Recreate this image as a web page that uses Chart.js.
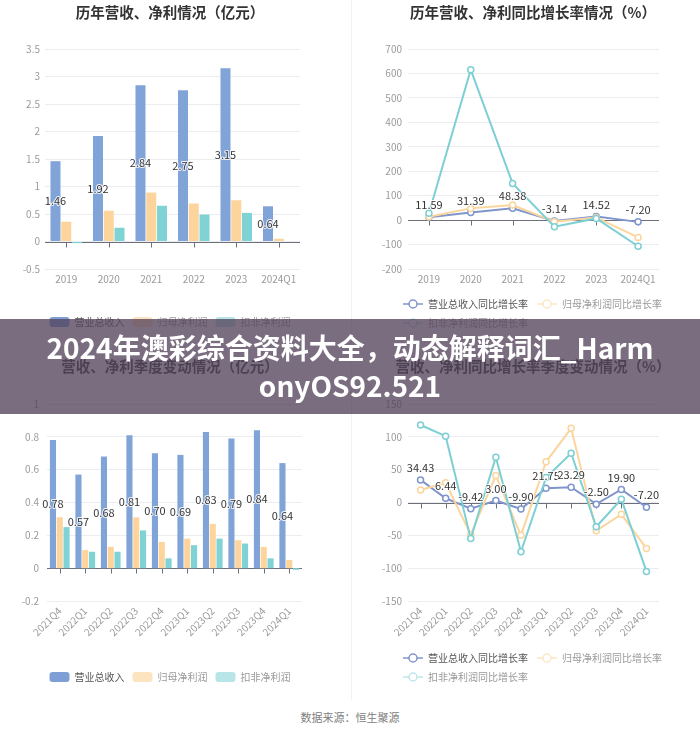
<!DOCTYPE html>
<html lang="zh-CN">
<head>
<meta charset="utf-8">
<title>历年营收、净利情况</title>
<script src="https://cdn.jsdelivr.net/npm/chart.js@4.4.1/dist/chart.umd.min.js"></script>
<style>
  html, body { margin: 0; padding: 0; background: #fff; }
  body { width: 700px; height: 734px; position: relative; overflow: hidden;
         font-family: "Noto Sans CJK SC", "Noto Sans", sans-serif; }
  canvas { position: absolute; }
  #yearAmount { left: 0; top: 0; }
  #yearGrowth { left: 352px; top: 0; }
  #quarterAmount { left: 0; top: 340px; }
  #quarterGrowth { left: 352px; top: 340px; }
  .divider { position: absolute; left: 351px; top: 0; width: 1px; height: 700px; background: #f2f2f2; }
  .banner { position: absolute; left: 0; top: 319px; width: 700px; height: 95px; z-index: 5;
            background: rgba(85, 68, 92, 0.78); color: #fff; text-align: center;
            font-family: "Noto Sans CJK SC", sans-serif; font-weight: 700; font-size: 28px;
            line-height: 38px; padding-top: 9px; box-sizing: border-box; white-space: nowrap; }
  .banner span { display: block; }
  .source { position: absolute; left: 0; top: 709px; width: 700px; text-align: center;
            font-size: 11px; color: #808080; }
</style>
</head>
<body>
<canvas id="yearAmount" width="340" height="340"></canvas>
<canvas id="yearGrowth" width="348" height="340"></canvas>
<canvas id="quarterAmount" width="340" height="360"></canvas>
<canvas id="quarterGrowth" width="348" height="360"></canvas>
<div class="divider"></div>
<div class="banner"><span>2024年澳彩综合资料大全，动态解释词汇_Harm</span><span>onyOS92.521</span></div>
<div class="source">数据来源：恒生聚源</div>

<script>
// ---- data ----
const yearLabels = ['2019', '2020', '2021', '2022', '2023', '2024Q1'];
const yearRevenue = [1.46, 1.92, 2.84, 2.75, 3.15, 0.64];
const yearNetProfit = [0.36, 0.56, 0.89, 0.69, 0.75, 0.05];
const yearDeducted = [-0.03, 0.25, 0.65, 0.49, 0.52, -0.01];

const yearRevenueGrowth = [11.59, 31.39, 48.38, -3.14, 14.52, -7.20];
const yearNetGrowth = [14, 48, 62, -7, 11, -71];
const yearDeductedGrowth = [28, 615, 150, -27, 7, -107];

const quarterLabels = ['2021Q4', '2022Q1', '2022Q2', '2022Q3', '2022Q4',
                       '2023Q1', '2023Q2', '2023Q3', '2023Q4', '2024Q1'];
const quarterRevenue = [0.78, 0.57, 0.68, 0.81, 0.70, 0.69, 0.83, 0.79, 0.84, 0.64];
const quarterNetProfit = [0.31, 0.11, 0.13, 0.31, 0.16, 0.18, 0.27, 0.17, 0.13, 0.05];
const quarterDeducted = [0.25, 0.10, 0.10, 0.23, 0.06, 0.14, 0.18, 0.15, 0.06, -0.01];

const quarterRevenueGrowth = [34.43, 6.44, -9.42, 3.00, -9.90, 21.75, 23.29, -2.50, 19.90, -7.20];
const quarterNetGrowth = [19, 30, -49, 41, -50, 62, 113, -43, -18, -70];
const quarterDeductedGrowth = [118, 101, -55, 69, -75, 38, 75, -37, 5, -105];

const barNames = ['营业总收入', '归母净利润', '扣非净利润'];
const lineNames = ['营业总收入同比增长率', '归母净利润同比增长率', '扣非净利润同比增长率'];

// y axis ranges: [min, max, step]
const yearAmountRange = [-0.5, 3.5, 0.5];
const yearGrowthRange = [-200, 700, 100];
const quarterAmountRange = [-0.2, 1, 0.2];
const quarterGrowthRange = [-150, 150, 50];

// ---- colours ----
const barColors = ['#80a3d8', '#fdd59c', '#7fd3d4'];
const lineColors = ['#7f96cc', '#fbd59c', '#7dcfd4'];
const legendBarColors = ['#7d9fd6', '#fde4c0', '#b8e5e8'];
const legendLineColors = ['#7f96cc', '#fde6c6', '#bfe6ea'];
const legendTextColors = ['#555', '#9a9a9a', '#9a9a9a'];

const fontFamily = '"Noto Sans CJK SC", "Noto Sans", sans-serif';
Chart.defaults.font.family = fontFamily;
Chart.defaults.animation = false;

// Small legend icon: a line with a hollow circle
function lineIcon(color) {
  const c = document.createElement('canvas');
  c.width = 20;
  c.height = 12;
  const g = c.getContext('2d');
  g.strokeStyle = color;
  g.lineWidth = 1.5;
  g.beginPath();
  g.moveTo(0, 6);
  g.lineTo(20, 6);
  g.stroke();
  g.beginPath();
  g.arc(10, 6, 4, 0, Math.PI * 2);
  g.fillStyle = '#fff';
  g.fill();
  g.stroke();
  return c;
}
const lineIcons = legendLineColors.map(lineIcon);

// Value labels for the first series
const valueLabels = {
  id: 'valueLabels',
  afterDatasetsDraw(chart, args, opts) {
    const { ctx } = chart;
    const meta = chart.getDatasetMeta(0);
    const data = chart.data.datasets[0].data;
    ctx.save();
    ctx.font = '11px ' + fontFamily;
    ctx.textAlign = 'center';
    ctx.textBaseline = 'middle';
    ctx.lineJoin = 'round';
    meta.data.forEach((el, i) => {
      const text = data[i].toFixed(2);
      const y = opts.mode === 'inside' ? (el.y + el.base) / 2 : el.y - 12;
      ctx.strokeStyle = 'rgba(255,255,255,0.85)';
      ctx.lineWidth = 2;
      ctx.strokeText(text, el.x, y);
      ctx.fillStyle = '#333';
      ctx.fillText(text, el.x, y);
    });
    ctx.restore();
  }
};

// Axis line at zero with small ticks at each category
const zeroAxis = {
  id: 'zeroAxis',
  beforeDatasetsDraw(chart) {
    const { ctx, chartArea, scales } = chart;
    const y0 = Math.round(scales.y.getPixelForValue(0)) + 0.5;
    ctx.save();
    ctx.strokeStyle = '#6e7079';
    ctx.lineWidth = 1;
    ctx.beginPath();
    ctx.moveTo(chartArea.left, y0);
    ctx.lineTo(chartArea.right, y0);
    scales.x.ticks.forEach((t, i) => {
      const px = Math.round(scales.x.getPixelForTick(i)) + 0.5;
      ctx.moveTo(px, y0);
      ctx.lineTo(px, y0 + 5);
    });
    ctx.stroke();
    ctx.restore();
  }
};

function fmtTick(v) {
  return String(Number(v.toFixed(2)));
}

// widest y tick label, so mirrored labels can sit right-aligned left of the plot
function widestTick(range) {
  const g = document.createElement('canvas').getContext('2d');
  g.font = '10px ' + fontFamily;
  let w = 0;
  for (let v = range[0]; v <= range[1] + 1e-9; v += range[2]) {
    w = Math.max(w, g.measureText(fmtTick(v)).width);
  }
  return w;
}

// Build options shared by all four panels; geo holds the layout numbers
function baseOptions(title, range, geo, rotated) {
  const yTicks = { stepSize: range[2], color: '#9a9a9a', font: { size: 10 }, padding: geo.yPad, callback: fmtTick };
  if (geo.mirror) {
    yTicks.mirror = true;
    yTicks.crossAlign = 'far';
    yTicks.padding = -(geo.yPad + widestTick(range));
  }
  return {
    responsive: false,
    layout: { padding: geo.padding },
    scales: {
      x: {
        offset: true,
        grid: { display: false, drawTicks: false },
        border: { display: false },
        ticks: {
          color: '#9a9a9a', font: { size: 10 }, padding: geo.xPad, autoSkip: false,
          minRotation: rotated ? 45 : 0, maxRotation: rotated ? 45 : 0
        },
        afterFit(s) { s.height = geo.xHeight; }
      },
      y: {
        min: range[0], max: range[1],
        grid: { color: '#ebedf0', drawTicks: false, tickLength: 0 },
        border: { display: false },
        ticks: yTicks,
        afterFit(s) { s.width = geo.yWidth; }
      },
      pad: {
        position: 'right',
        grid: { display: false, drawTicks: false },
        border: { display: false },
        ticks: { display: false },
        afterFit(s) { s.width = geo.rightPad; }
      }
    },
    plugins: {
      title: {
        display: true, text: title, color: '#333',
        font: { size: 14.5, weight: 'bold' },
        padding: geo.titlePad
      },
      legend: {
        position: 'bottom',
        align: geo.legendAlign
      },
      tooltip: { enabled: false }
    }
  };
}

function barChart(id, title, labels, series, range, geo, rotated) {
  const options = baseOptions(title, range, geo, rotated);
  options.plugins.valueLabels = { mode: 'inside' };
  options.plugins.legend.labels = {
    boxWidth: 20, boxHeight: 10, padding: geo.legendGap,
    font: { size: 10 }, useBorderRadius: true, borderRadius: 3,
    generateLabels(chart) {
      return Chart.defaults.plugins.legend.labels.generateLabels(chart).map((item, i) => {
        item.fillStyle = legendBarColors[i];
        item.lineWidth = 0;
        item.fontColor = legendTextColors[i];
        return item;
      });
    }
  };
  return new Chart(document.getElementById(id), {
    type: 'bar',
    data: {
      labels: labels,
      datasets: series.map((data, i) => ({
        label: barNames[i],
        data: data,
        yAxisID: 'y',
        backgroundColor: barColors[i],
        categoryPercentage: geo.catPct,
        barPercentage: geo.barPct
      }))
    },
    options: options,
    plugins: [zeroAxis, valueLabels]
  });
}

function lineChart(id, title, labels, series, range, geo, rotated) {
  const options = baseOptions(title, range, geo, rotated);
  options.plugins.valueLabels = { mode: 'above' };
  options.plugins.legend.labels = {
    usePointStyle: true, pointStyleWidth: 20, padding: geo.legendGap,
    font: { size: 10 },
    sort: (a, b) => a.datasetIndex - b.datasetIndex,
    generateLabels(chart) {
      return Chart.defaults.plugins.legend.labels.generateLabels(chart).map(item => {
        const i = item.datasetIndex;
        item.pointStyle = lineIcons[i];
        item.fontColor = legendTextColors[i];
        return item;
      });
    }
  };
  return new Chart(document.getElementById(id), {
    type: 'line',
    data: {
      labels: labels,
      datasets: series.map((data, i) => ({
        label: lineNames[i],
        data: data,
        yAxisID: 'y',
        order: 2 - i,
        borderColor: lineColors[i],
        borderWidth: 2,
        tension: 0,
        pointRadius: 3,
        pointBorderWidth: 1.5,
        pointBackgroundColor: '#fff',
        pointBorderColor: lineColors[i]
      }))
    },
    options: options,
    plugins: [zeroAxis, valueLabels]
  });
}

barChart('yearAmount', '历年营收、净利情况（亿元）', yearLabels,
  [yearRevenue, yearNetProfit, yearDeducted], yearAmountRange, {
    padding: { left: 0, right: 0, top: 0, bottom: 3 },
    titlePad: { top: 3.3, bottom: 28.3 },
    yWidth: 45, yPad: 5, rightPad: 40, xHeight: 40, xPad: 4,
    legendGap: 8, legendAlign: 'center', catPct: 0.76, barPct: 0.93
  }, false);

lineChart('yearGrowth', '历年营收、净利同比增长率情况（%）', yearLabels,
  [yearRevenueGrowth, yearNetGrowth, yearDeductedGrowth], yearGrowthRange, {
    padding: { left: 42, right: 28, top: 0, bottom: 2 },
    titlePad: { top: 3.3, bottom: 28.3 },
    yWidth: 14, yPad: 6, mirror: true, rightPad: 13, xHeight: 21, xPad: 4,
    legendGap: 9, legendAlign: 'start'
  }, false);

barChart('quarterAmount', '营收、净利季度变动情况（亿元）', quarterLabels,
  [quarterRevenue, quarterNetProfit, quarterDeducted], quarterAmountRange, {
    padding: { left: 0, right: 0, top: 0, bottom: 8 },
    titlePad: { top: 17.3, bottom: 29.3 },
    yWidth: 47, yPad: 8, rightPad: 38, xHeight: 63, xPad: 4,
    legendGap: 8, legendAlign: 'center', catPct: 0.8, barPct: 0.9
  }, true);

lineChart('quarterGrowth', '营收、净利同比增长率季度变动情况（%）', quarterLabels,
  [quarterRevenueGrowth, quarterNetGrowth, quarterDeductedGrowth], quarterGrowthRange, {
    padding: { left: 42, right: 28, top: 0, bottom: 8 },
    titlePad: { top: 17.3, bottom: 29.3 },
    yWidth: 14, yPad: 6, mirror: true, rightPad: 13, xHeight: 43, xPad: 4,
    legendGap: 9, legendAlign: 'start'
  }, true);
</script>
</body>
</html>
